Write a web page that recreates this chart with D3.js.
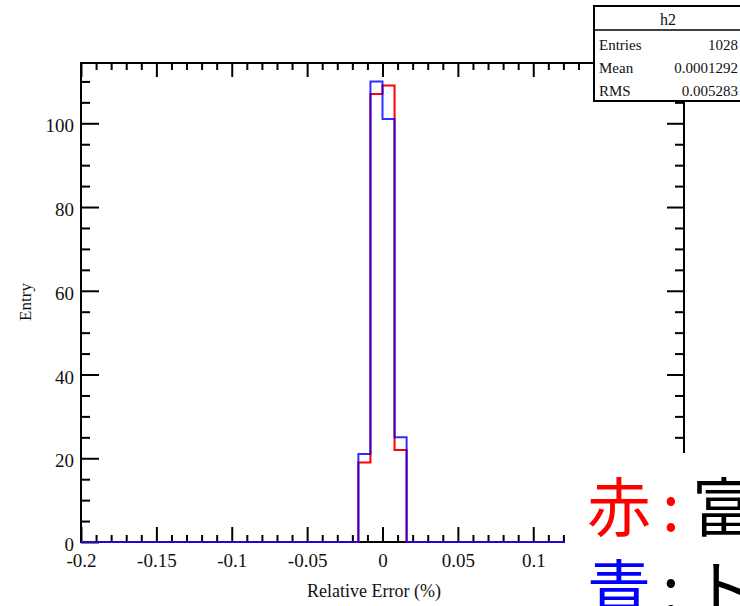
<!DOCTYPE html>
<html>
<head>
<meta charset="utf-8">
<script src="https://cdn.jsdelivr.net/npm/d3@7.9.0/dist/d3.min.js"></script>
<style>
  html, body { margin: 0; padding: 0; background: #fff; }
  svg { display: block; }
  .serif { font-family: "Liberation Serif", "DejaVu Serif", serif; }
  .jp { font-family: "Noto Sans CJK JP", sans-serif; }
</style>
</head>
<body>
<svg id="chart" width="740" height="606"></svg>
<script>
// histogram bins (lower edges of the non-empty bins), everything else is 0
const binLow = [-0.016, -0.008, 0, 0.008];
const binWidth = 0.008;
const redCounts = [19, 107, 109, 22];
const blueCounts = [21, 110, 101, 25];

const xDomain = [-0.2, 0.2];
const yDomain = [0, 114.4];
const xMajor = [-0.2, -0.15, -0.1, -0.05, 0, 0.05, 0.1, 0.15, 0.2];
const yMajor = [0, 20, 40, 60, 80, 100];

const statsRows = [
  ['Entries', '1028'],
  ['Mean', '0.0001292'],
  ['RMS', '0.005283']
];

const svg = d3.select('#chart');
const plotL = 81, plotR = 684, plotT = 63, plotB = 542;

const x = d3.scaleLinear().domain(xDomain).range([plotL, plotR]);
const y = d3.scaleLinear().domain(yDomain).range([plotB, plotT]);

const fmt = d => d === 0 ? '0' : String(+d.toFixed(2));

// minor ticks
const xMinor = d3.range(-200, 201, 10).map(v => v / 1000).filter(v => !xMajor.some(m => Math.abs(m - v) < 1e-9));
const yMinor = d3.range(0, 115, 5).filter(v => v % 20 !== 0);

function drawAxis(gen, tr) {
  const g = svg.append('g').attr('transform', tr).call(gen);
  g.select('.domain').remove();
  g.selectAll('line').attr('stroke', '#000').attr('stroke-width', 2);
  return g;
}

// bottom axis
const xb = drawAxis(d3.axisBottom(x).tickValues(xMajor).tickSize(-15).tickFormat(fmt), `translate(0,${plotB})`);
xb.selectAll('text').attr('class', 'serif').attr('font-size', 19).attr('fill', '#111').attr('y', 12).attr('dy', '0.71em');
drawAxis(d3.axisBottom(x).tickValues(xMinor).tickSize(-7).tickFormat(''), `translate(0,${plotB})`);
// top axis
drawAxis(d3.axisTop(x).tickValues(xMajor).tickSize(-14).tickFormat(''), `translate(0,${plotT})`);
drawAxis(d3.axisTop(x).tickValues(xMinor).tickSize(-7).tickFormat(''), `translate(0,${plotT})`);
// left axis
const yl = drawAxis(d3.axisLeft(y).tickValues(yMajor).tickSize(-18).tickFormat(d => d), `translate(${plotL},0)`);
yl.selectAll('text').attr('class', 'serif').attr('font-size', 19).attr('fill', '#111').attr('x', -7).attr('dy', '0.45em');
drawAxis(d3.axisLeft(y).tickValues(yMinor).tickSize(-9).tickFormat(''), `translate(${plotL},0)`);
// right axis
drawAxis(d3.axisRight(y).tickValues(yMajor).tickSize(-17).tickFormat(''), `translate(${plotR},0)`);
drawAxis(d3.axisRight(y).tickValues(yMinor).tickSize(-9).tickFormat(''), `translate(${plotR},0)`);

// frame
svg.append('rect')
  .attr('x', plotL).attr('y', plotT)
  .attr('width', plotR - plotL).attr('height', plotB - plotT)
  .attr('fill', 'none').attr('stroke', '#000').attr('stroke-width', 2);

// step outline, running along zero outside the filled bins
function outline(counts) {
  const path = d3.path();
  path.moveTo(x(xDomain[0]), y(0));
  binLow.forEach((lo, i) => {
    path.lineTo(x(lo), y(i === 0 ? 0 : counts[i - 1]));
    path.lineTo(x(lo), y(counts[i]));
    path.lineTo(x(lo + binWidth), y(counts[i]));
  });
  const last = binLow[binLow.length - 1] + binWidth;
  path.lineTo(x(last), y(0));
  path.lineTo(x(xDomain[1]), y(0));
  return path.toString();
}

svg.append('path').attr('d', outline(redCounts))
  .attr('fill', 'none').attr('stroke', '#ff0000').attr('stroke-width', 2);
svg.append('path').attr('d', outline(blueCounts))
  .attr('fill', 'none').attr('stroke', '#0000ff').attr('stroke-width', 2).attr('stroke-opacity', 0.82);

// axis titles
svg.append('text').attr('class', 'serif')
  .attr('x', 374).attr('y', 597).attr('text-anchor', 'middle')
  .attr('font-size', 18).attr('fill', '#111').text('Relative Error (%)');
svg.append('text').attr('class', 'serif')
  .attr('transform', 'translate(31,302) rotate(-90)').attr('text-anchor', 'middle')
  .attr('font-size', 17).attr('fill', '#111').text('Entry');

// stats box
const sb = svg.append('g').attr('class', 'serif');
sb.append('rect').attr('x', 594).attr('y', 6).attr('width', 160).attr('height', 95)
  .attr('fill', '#fff').attr('stroke', '#000').attr('stroke-width', 2);
sb.append('line').attr('x1', 594).attr('x2', 754).attr('y1', 30).attr('y2', 30)
  .attr('stroke', '#000').attr('stroke-width', 1.5);
sb.append('text').attr('x', 668).attr('y', 25).attr('text-anchor', 'middle')
  .attr('font-size', 16).attr('fill', '#111').text('h2');
statsRows.forEach((r, i) => {
  const yy = 50 + i * 23;
  sb.append('text').attr('x', 599).attr('y', yy).attr('font-size', 15).attr('fill', '#111').text(r[0]);
  sb.append('text').attr('x', 738).attr('y', yy).attr('text-anchor', 'end').attr('font-size', 15).attr('fill', '#111').text(r[1]);
});

// overlapping slide text box
svg.append('rect').attr('x', 565).attr('y', 453).attr('width', 175).attr('height', 153).attr('fill', '#fff');
const jp = svg.append('g').attr('class', 'jp').attr('font-size', 64);
jp.append('text').attr('x', 587).attr('y', 531).attr('fill', '#ff0000').text('赤');
jp.append('text').attr('x', 671).attr('y', 531).attr('text-anchor', 'middle').attr('fill', '#ff0000').text(':');
jp.append('text').attr('x', 692).attr('y', 531).attr('fill', '#000').text('富');
jp.append('text').attr('x', 587).attr('y', 613).attr('fill', '#0000ff').text('青');
jp.append('text').attr('x', 671).attr('y', 613).attr('text-anchor', 'middle').attr('fill', '#000').text(':');
jp.append('text').attr('x', 692).attr('y', 613).attr('fill', '#000').text('ト');
</script>
</body>
</html>
